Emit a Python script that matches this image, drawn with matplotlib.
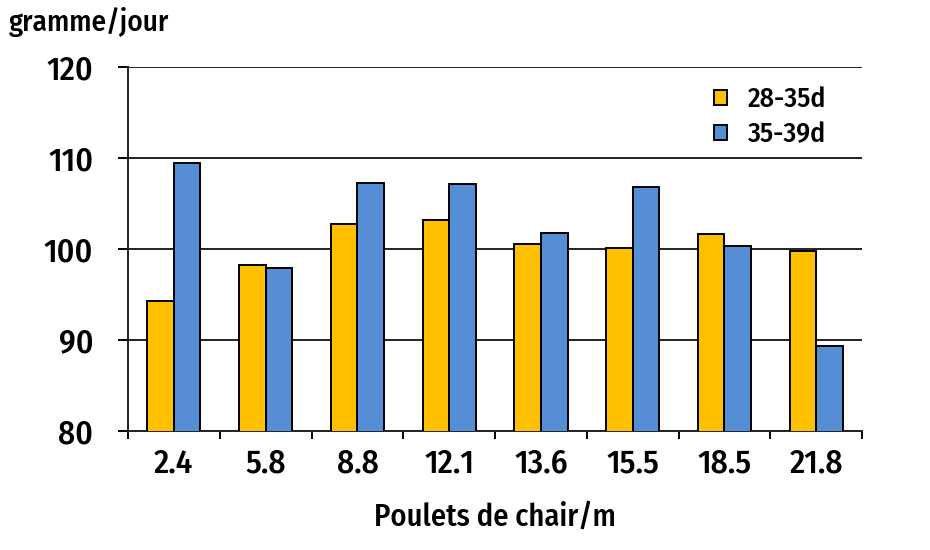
import numpy as np
import matplotlib
matplotlib.use('Agg')
import matplotlib.pyplot as plt

# values (gramme/jour)
densities = ['2.4', '5.8', '8.8', '12.1', '13.6', '15.5', '18.5', '21.8']
gain_28_35 = [94.3, 98.2, 102.7, 103.2, 100.6, 100.1, 101.6, 99.8]
gain_35_39 = [109.5, 97.9, 107.3, 107.1, 101.8, 106.8, 100.3, 89.3]
series_labels = ['28-35d', '35-39d']
yticks = [80, 90, 100, 110, 120]

YELLOW = '#FFC000'
BLUE = '#558ED5'

plt.rcParams['font.family'] = ['Fira Sans Condensed', 'Open Sans Condensed',
                               'DejaVu Sans']
plt.rcParams['font.weight'] = 'medium'
plt.rcParams['axes.labelweight'] = 'medium'

fig = plt.figure(figsize=(9.3, 5.5), dpi=100)
ax = fig.add_axes([0.1376, 0.2164, 0.7894, 0.6618])

x = np.arange(len(densities))
w = 0.29
ax.bar(x - w / 2, gain_28_35, w, color=YELLOW, edgecolor='black',
       linewidth=1.4, label=series_labels[0], zorder=3)
ax.bar(x + w / 2, gain_35_39, w, color=BLUE, edgecolor='black',
       linewidth=1.4, label=series_labels[1], zorder=3)

ax.set_xlim(-0.5, len(densities) - 0.5)
ax.set_ylim(80, 120)
ax.set_yticks(yticks)
ax.set_yticklabels([str(v) for v in yticks], fontsize=24)
ax.yaxis.grid(True, color='#222222', lw=1.4, zorder=0)

# category labels centred, ticks between categories
ax.set_xticks(np.arange(len(densities) + 1) - 0.5)
ax.set_xticklabels([])
ax.set_xticks(x, minor=True)
ax.set_xticklabels(densities, minor=True, fontsize=24)
ax.tick_params(axis='x', which='minor', length=0, pad=12)
ax.tick_params(axis='x', which='major', length=6, width=1.4, direction='out')
ax.tick_params(axis='y', length=7, width=1.4, pad=18)

for s in ['top', 'right']:
    ax.spines[s].set_visible(False)
for s in ['left', 'bottom']:
    ax.spines[s].set_linewidth(1.4)
    ax.spines[s].set_color('#222222')

ax.set_xlabel('Poulets de chair/m', fontsize=22, labelpad=16)
fig.text(0.009, 0.96, 'gramme/jour', fontsize=21, ha='left', va='center')

leg = ax.legend(loc='upper left', bbox_to_anchor=(695 / 930, 1 - 67 / 550),
                bbox_transform=fig.transFigure, frameon=False,
                fontsize=20, handlelength=0.45, handleheight=0.45,
                handletextpad=0.75, labelspacing=0.3, borderpad=0.2)
leg.set_zorder(5)

fig.savefig('out.png', dpi=100)
